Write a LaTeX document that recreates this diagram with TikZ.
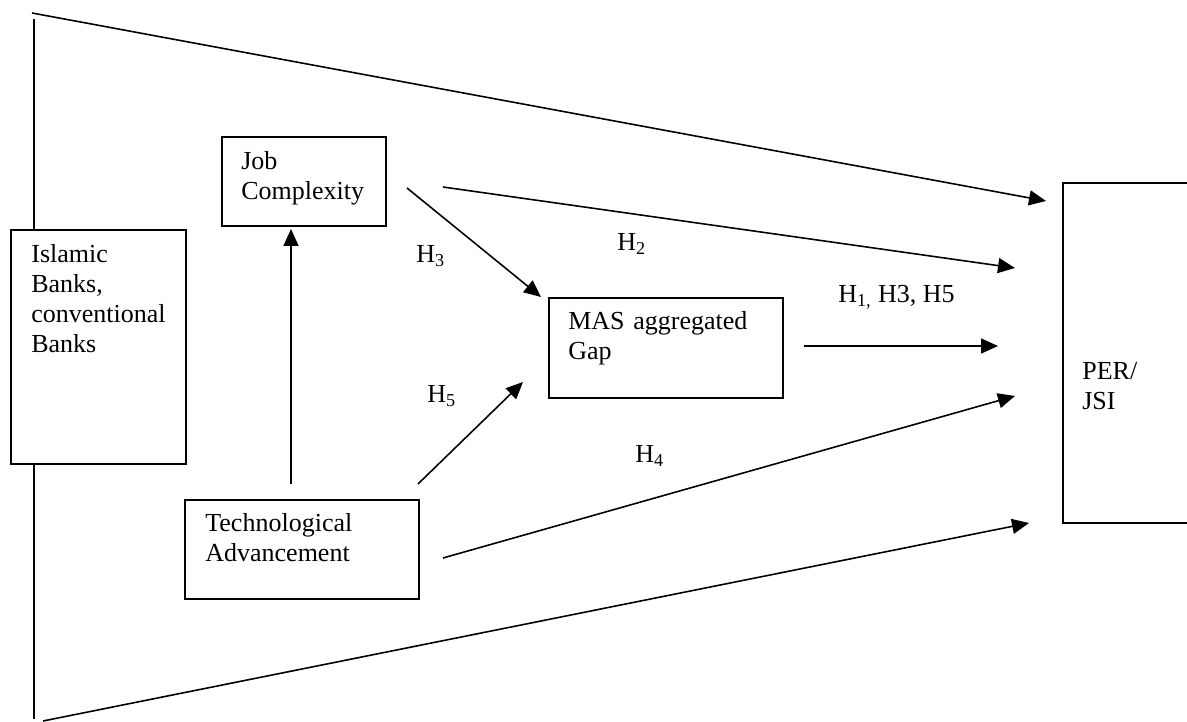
\documentclass[tikz,border=0pt]{standalone}
\usepackage{fontspec}
\setmainfont{Liberation Serif}
\usetikzlibrary{arrows.meta}
\tikzset{
  boxnode/.style={draw, line width=0.9pt, inner sep=0pt, anchor=north west},
  boxtext/.style={anchor=base west, inner sep=0pt, text width=5cm, align=left, font=\fontsize{14.8}{17.07}\selectfont},
  hlabel/.style={anchor=base west, inner sep=0pt, font=\fontsize{14.8}{17.07}\selectfont},
  plainline/.style={line width=0.9pt},
  arr/.style={line width=0.9pt, -{Triangle[length=0.34cm,width=0.3cm]}}
}
\begin{document}
\begin{tikzpicture}[x=0.02cm,y=-0.02cm]
\useasboundingbox (0,0) rectangle (1187,722);
\clip (0,0) rectangle (1187,722);
% boxes
\node[boxnode, minimum width=3.5cm, minimum height=4.68cm] (isl) at (10,229) {};
\node[boxnode, minimum width=3.28cm, minimum height=1.78cm] (job) at (221,136) {};
\node[boxnode, minimum width=4.68cm, minimum height=2.0cm] (mas) at (548,297) {};
\node[boxnode, minimum width=4.68cm, minimum height=1.98cm] (tech) at (184,499) {};
\node[boxnode, minimum width=2.9cm, minimum height=6.8cm] (per) at (1062,182) {};
% box texts
\node[boxtext] (islt) at (31,263) {Islamic\\Banks,\\conventional\\Banks};
\node[boxtext] (jobt) at (241,170) {Job\\Complexity};
\node[boxtext] (mast) at (568,330) {MAS aggregated\\Gap};
\node[boxtext] (techt) at (205,532) {Technological\\Advancement};
\node[boxtext] (pert) at (1082,380) {PER/\\JSI};
% labels
\node[hlabel] (h3) at (416,263) {H\textsubscript{3}};
\node[hlabel] (h2) at (617,251) {H\textsubscript{2}};
\node[hlabel] (h5) at (427,403) {H\textsubscript{5}};
\node[hlabel] (h4) at (635,463) {H\textsubscript{4}};
\node[hlabel] (h135) at (838,303) {H\textsubscript{1,} H3, H5};
% connector ends
\coordinate (topS) at (32,13);
\coordinate (topE) at (1046,201);
\coordinate (botS) at (43,721);
\coordinate (botE) at (1029,523);
\coordinate (vTop) at (34,19);
\coordinate (vBot) at (34,719);
\coordinate (jmS) at (407,188);
\coordinate (jmE) at (541,297);
\coordinate (h2S) at (443,187);
\coordinate (h2E) at (1015,268);
\coordinate (mpS) at (804,346);
\coordinate (mpE) at (998,346);
\coordinate (tmS) at (418,484);
\coordinate (tmE) at (523,382);
\coordinate (h4S) at (443,558);
\coordinate (h4E) at (1015,396);
\coordinate (tjS) at (291,484);
\coordinate (tjE) at (291,229);
% connectors
\draw[plainline] (vTop) -- (vTop |- isl.north);
\draw[plainline] (vBot |- isl.south) -- (vBot);
\draw[arr] (topS) -- (topE);
\draw[arr] (botS) -- (botE);
\draw[arr] (jmS) -- (jmE);
\draw[arr] (h2S) -- (h2E);
\draw[arr] (mpS) -- (mpE);
\draw[arr] (tmS) -- (tmE);
\draw[arr] (h4S) -- (h4E);
\draw[arr] (tjS) -- (tjE);
\end{tikzpicture}
\end{document}
